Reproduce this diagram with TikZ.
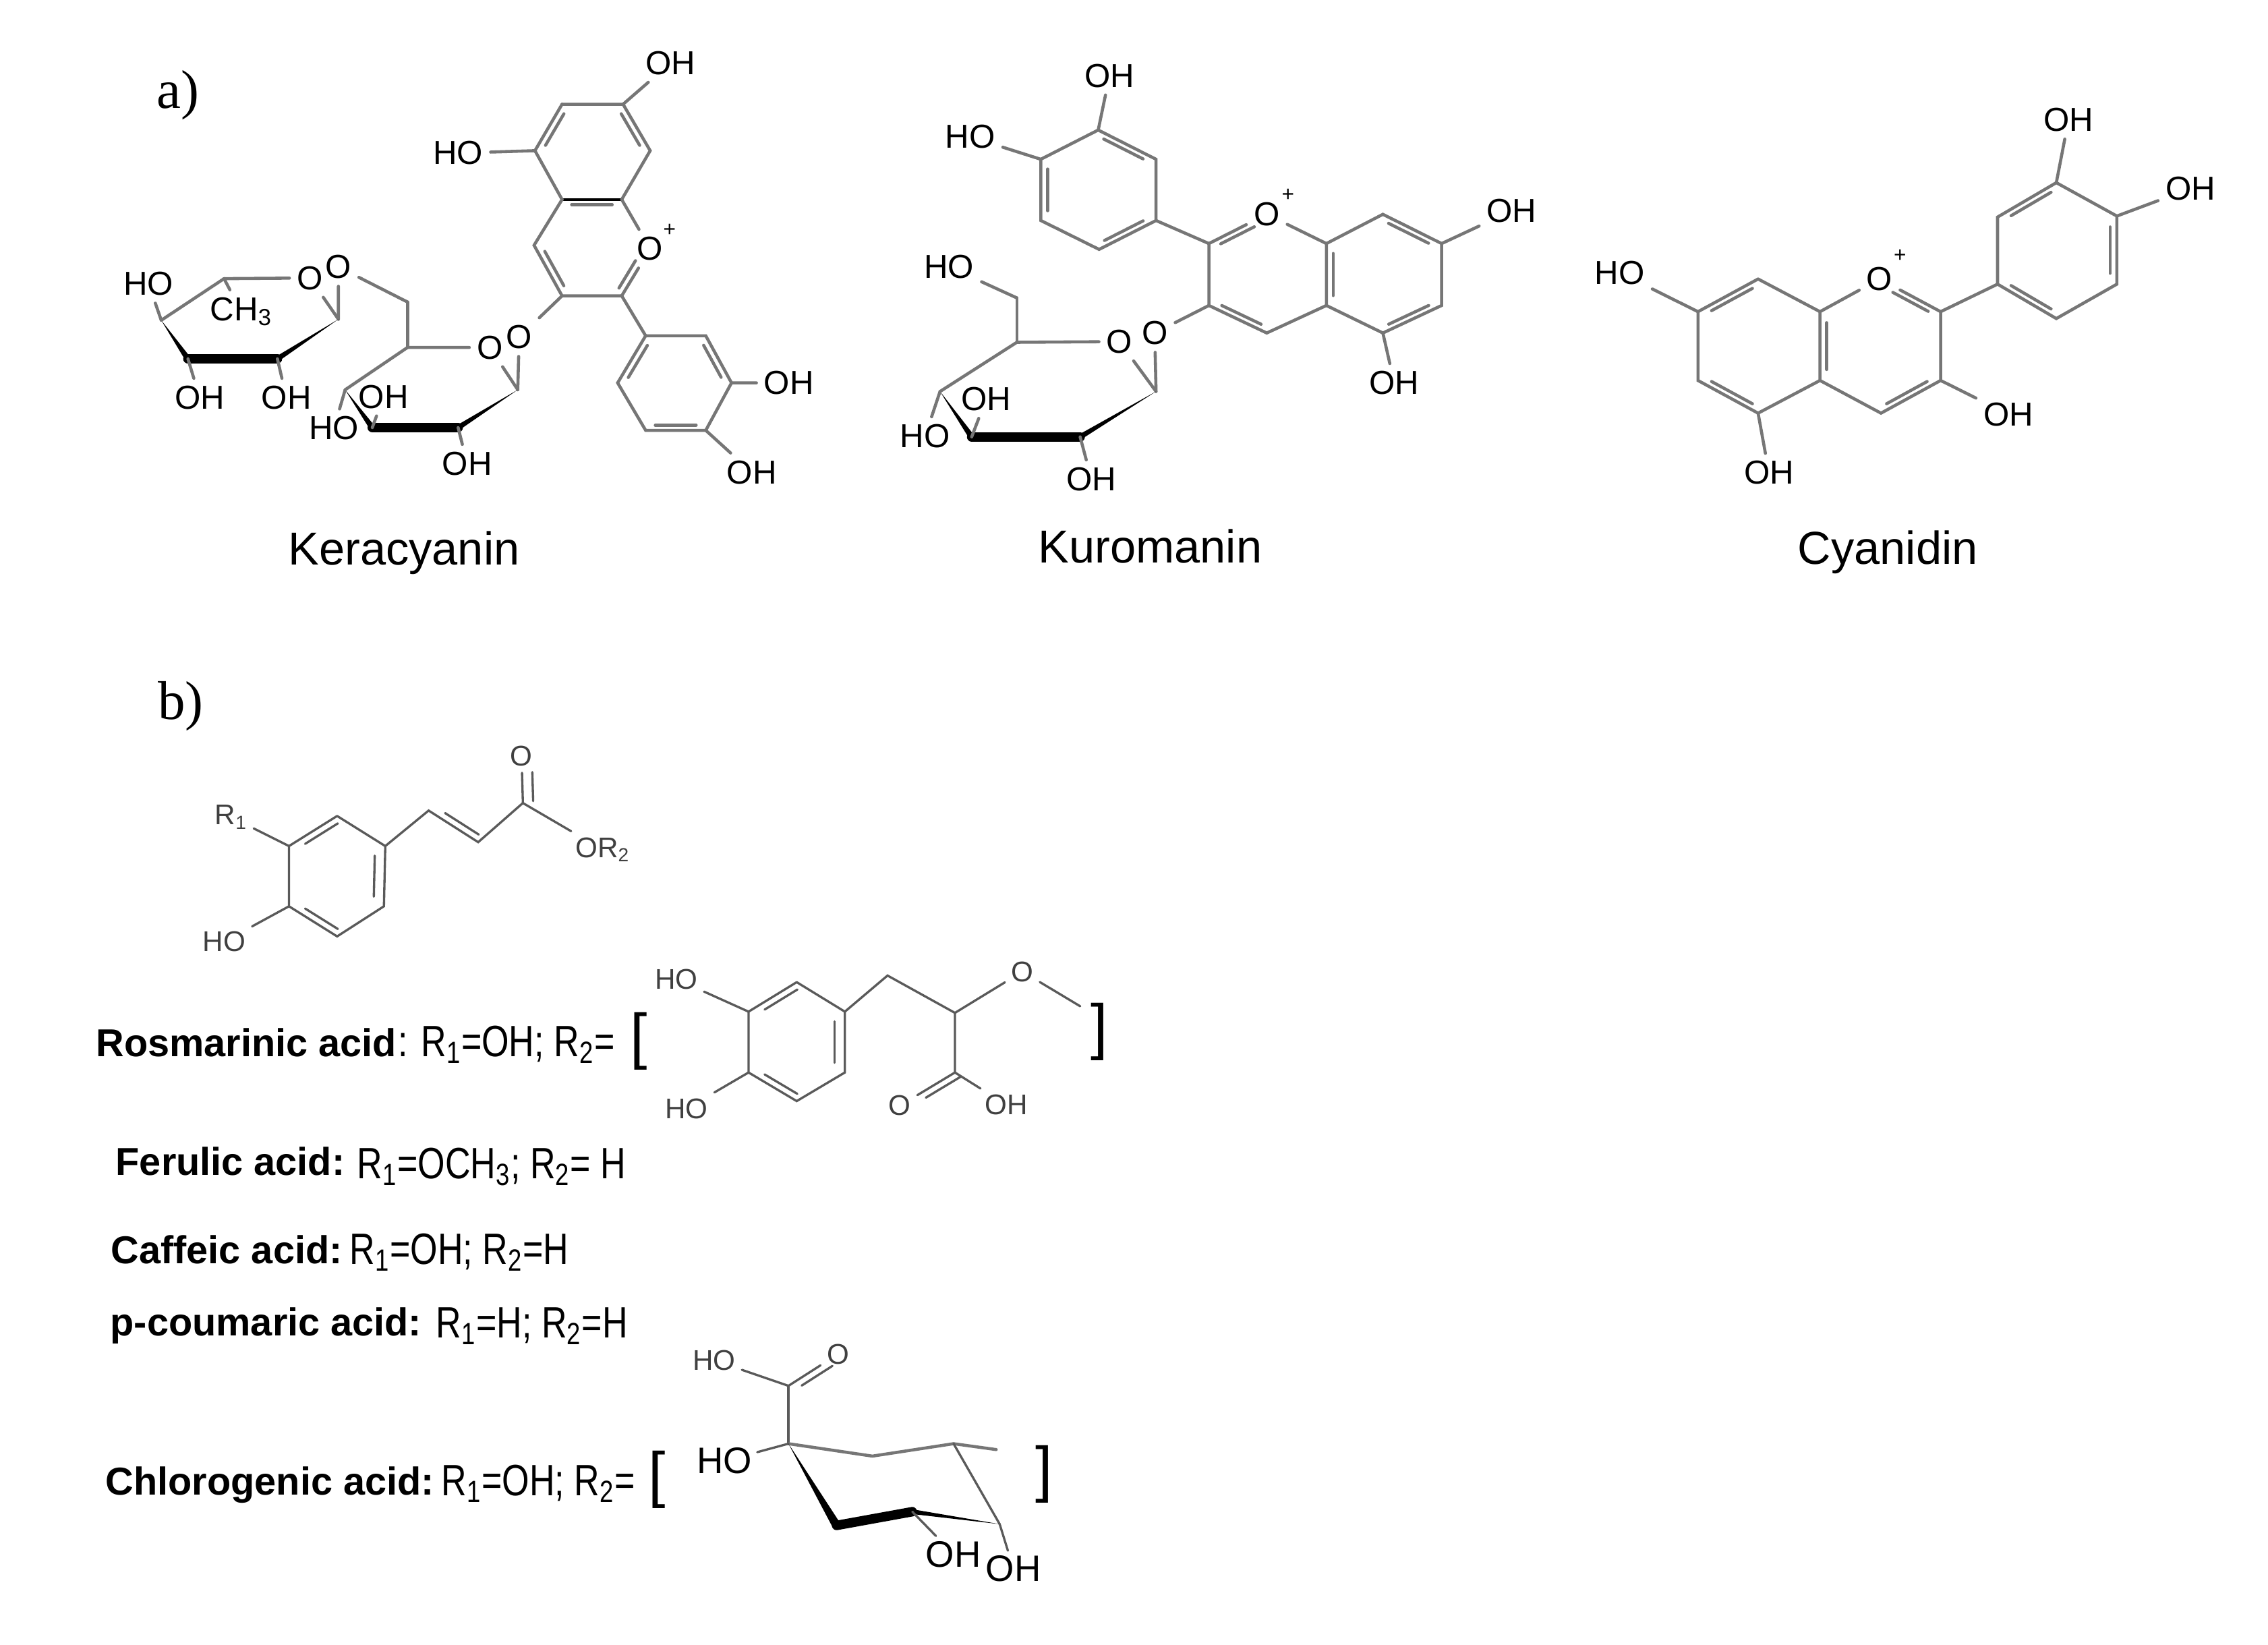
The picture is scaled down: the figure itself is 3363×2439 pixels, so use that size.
\documentclass[tikz,border=0pt]{standalone}
\usepackage{fontspec}
\usepackage{xcolor}
\usepackage{tikz}
\usetikzlibrary{calc}
\setmainfont{Liberation Sans}
\newfontfamily\SerifFont{Liberation Serif}
\newfontfamily\CondFont[FakeStretch=0.80]{Liberation Sans}
\definecolor{ColBond}{RGB}{118,118,118}
\definecolor{ColThin}{RGB}{90,90,90}
\tikzstyle{EdgeBond}=[ColBond,line width=1.3pt,line cap=round]
\tikzstyle{EdgeThin}=[ColThin,line width=0.95pt,line cap=round]
\tikzstyle{EdgeBold}=[black,line width=4pt,line cap=round]
\tikzstyle{NodeAtom}=[inner sep=3pt,font=\fontsize{14}{15}\selectfont]
\tikzstyle{NodeLarge}=[inner sep=2pt,font=\fontsize{15.5}{16}\selectfont]
\tikzstyle{NodeSmall}=[inner sep=2.5pt,text=black!75,font=\fontsize{12}{13}\selectfont]
\tikzstyle{NodePlus}=[inner sep=0pt,font=\fontsize{9}{10}\selectfont]
\tikzstyle{NodeTitle}=[inner sep=0pt,font=\fontsize{19.5}{21}\selectfont]
\tikzstyle{NodeLetter}=[inner sep=0pt,font=\SerifFont\fontsize{23}{24}\selectfont]
\tikzstyle{NodeAcid}=[inner sep=0pt,anchor=base west,font=\bfseries\fontsize{16.4}{17}\selectfont]
\tikzstyle{NodeFormula}=[inner sep=0pt,anchor=base west,font=\CondFont\fontsize{18.5}{19}\selectfont]
\tikzstyle{NodeBracket}=[inner sep=0pt,anchor=base,font=\fontsize{26}{27}\selectfont]
\newcommand{\InnerPart}[5]{\draw[#1]($(#4)!#2!(#5)!0.15cm!-90:(#5)$)--($(#4)!#3!(#5)!0.15cm!-90:(#5)$);}
\newcommand{\InnerBond}[3][EdgeBond]{\InnerPart{#1}{0.16}{0.84}{#2}{#3}}
\newcommand{\WedgeBond}[2]{\fill[black]($(#1)$)--($(#2)!0.07cm!90:(#1)$)--($(#2)!0.07cm!-90:(#1)$)--cycle;}
\begin{document}
\begin{tikzpicture}[x=0.01cm,y=-0.01cm]
    \useasboundingbox(0,0)rectangle(3363,2439);
    \node[NodeLetter](lettera)at(264,141){a)};
    \node[NodeLetter](letterb)at(268,1047){b)};
    % Keracyanin
    \begin{scope}[shift={(150,50)},xscale=0.67,yscale=0.51]
        \coordinate(kA1)at(1020,205);\coordinate(kA2)at(1155,205);\coordinate(kA3)at(1215,340);
        \coordinate(kA4)at(1152,482);\coordinate(kA5)at(1020,482);\coordinate(kA6)at(960,340);
        \coordinate(kB1)at(958,615);\coordinate(kB2)at(1020,762);\coordinate(kB3)at(1152,762);
        \coordinate(kC1)at(1205,878);\coordinate(kC2)at(1338,878);\coordinate(kC3)at(1395,1015);
        \coordinate(kC4)at(1338,1153);\coordinate(kC5)at(1205,1153);\coordinate(kC6)at(1143,1015);
        \coordinate(kD1)at(922,1035);\coordinate(kD2)at(790,1145);\coordinate(kD3)at(600,1145);
        \coordinate(kD4)at(540,1035);\coordinate(kD5)at(678,912);\coordinate(kD6)at(678,780);
        \coordinate(kE1)at(525,830);\coordinate(kE2)at(390,945);\coordinate(kE3)at(192,945);
        \coordinate(kE4)at(133,833);\coordinate(kE5)at(272,712);
        \node[NodeAtom](kOa)at(1215,625){O};
        \node[NodePlus](kPlus)at(1258,572){+};
        \node[NodeAtom](kOb)at(925,882){O};
        \node[NodeAtom](kOc)at(860,912){O};
        \node[NodeAtom](kOd)at(525,678){O};
        \node[NodeAtom](kOe)at(462,710){O};
        \node[NodeAtom](kOHa)at(1260,85){OH};
        \node[NodeAtom](kOHb)at(790,347){HO};
        \node[NodeAtom](kOHc)at(1522,1015){OH};
        \node[NodeAtom](kOHd)at(1440,1275){OH};
        \node[NodeAtom](kOHe)at(810,1250){OH};
        \node[NodeAtom](kOHf)at(625,1055){OH};
        \node[NodeAtom](kOHg)at(515,1147){HO};
        \node[NodeAtom](kOHh)at(105,727){HO};
        \node[NodeAtom](kOHi)at(218,1058){OH};
        \node[NodeAtom](kOHj)at(410,1058){OH};
        \node[NodeAtom](kMe)at(310,808){CH\textsubscript{3}};
        \node[NodeTitle](kName)at(670,1510){Keracyanin};
        \draw[EdgeBond](kA1)--(kA2)--(kA3)--(kA4);
        \draw[EdgeBond,black](kA4)--(kA5);
        \draw[EdgeBond](kA5)--(kA6)--(kA1);
        \draw[EdgeBond](kA5)--(kB1)--(kB2)--(kB3);
        \draw[EdgeBond](kA4)--(kOa);
        \draw[EdgeBond](kB3)--(kOa);
        \draw[EdgeBond](kA2)--(kOHa);
        \draw[EdgeBond](kA6)--(kOHb);
        \InnerBond{kA6}{kA1}
        \InnerBond{kA2}{kA3}
        \InnerBond{kA5}{kA4}
        \InnerBond{kB2}{kB1}
        \InnerPart{EdgeBond}{0.3}{0.88}{kOa}{kB3}
        \draw[EdgeBond](kB3)--(kC1);
        \draw[EdgeBond](kC1)--(kC2)--(kC3)--(kC4)--(kC5)--(kC6)--(kC1);
        \InnerBond{kC6}{kC1}
        \InnerBond{kC2}{kC3}
        \InnerBond{kC4}{kC5}
        \draw[EdgeBond](kC3)--(kOHc);
        \draw[EdgeBond](kC4)--(kOHd);
        \draw[EdgeBond](kB2)--(kOb);
        \draw[EdgeBond](kOb)--(kD1);
        \draw[EdgeBond](kD1)--(kOc);
        \draw[EdgeBond](kOc)--(kD5);
        \draw[EdgeBond](kD5)--(kD4);
        \draw[EdgeBond](kD5)--(kD6);
        \draw[EdgeBond](kD6)--(kOd);
        \draw[EdgeBond](kOd)--(kE1);
        \draw[EdgeBond](kE1)--(kOe);
        \draw[EdgeBond](kOe)--(kE5);
        \draw[EdgeBond](kE5)--(kE4);
        \draw[EdgeBond](kE5)--(kMe);
        \WedgeBond{kD1}{kD2}
        \WedgeBond{kD4}{kD3}
        \draw[EdgeBold](kD3)--(kD2);
        \WedgeBond{kE1}{kE2}
        \WedgeBond{kE4}{kE3}
        \draw[EdgeBold](kE3)--(kE2);
        \draw[EdgeBond](kD2)--(kOHe);
        \draw[EdgeBond](kD3)--(kOHf);
        \draw[EdgeBond](kD4)--(kOHg);
        \draw[EdgeBond](kE4)--(kOHh);
        \draw[EdgeBond](kE3)--(kOHi);
        \draw[EdgeBond](kE2)--(kOHj);
    \end{scope}
    % Kuromanin
    \begin{scope}[shift={(1280,50)},xscale=0.67,yscale=0.51]
        \coordinate(mP1)at(520,280);\coordinate(mP2)at(648,365);\coordinate(mP3)at(648,543);
        \coordinate(mP4)at(522,627);\coordinate(mP5)at(393,543);\coordinate(mP6)at(393,365);
        \coordinate(mQ1)at(765,610);\coordinate(mQ3)at(1025,610);\coordinate(mQ4)at(1025,790);
        \coordinate(mQ5)at(893,870);\coordinate(mQ6)at(765,790);
        \coordinate(mR1)at(1150,525);\coordinate(mR2)at(1280,610);\coordinate(mR3)at(1280,790);
        \coordinate(mR4)at(1150,870);
        \coordinate(mS1)at(648,1040);\coordinate(mS2)at(480,1172);\coordinate(mS3)at(240,1172);
        \coordinate(mS4)at(170,1040);\coordinate(mS5)at(340,897);\coordinate(mS6)at(340,768);
        \node[NodeAtom](mOa)at(893,525){O};
        \node[NodePlus](mPlus)at(940,470){+};
        \node[NodeAtom](mOb)at(645,870){O};
        \node[NodeAtom](mOc)at(567,895){O};
        \node[NodeAtom](mOHa)at(545,122){OH};
        \node[NodeAtom](mOHb)at(237,300){HO};
        \node[NodeAtom](mOHc)at(1435,515){OH};
        \node[NodeAtom](mOHd)at(1175,1015){OH};
        \node[NodeAtom](mOHe)at(190,678){HO};
        \node[NodeAtom](mOHf)at(137,1170){HO};
        \node[NodeAtom](mOHg)at(272,1062){OH};
        \node[NodeAtom](mOHh)at(505,1295){OH};
        \node[NodeTitle](mName)at(635,1490){Kuromanin};
        \draw[EdgeBond](mP1)--(mP2)--(mP3)--(mP4)--(mP5)--(mP6)--(mP1);
        \InnerBond{mP1}{mP2}
        \InnerBond{mP3}{mP4}
        \InnerBond{mP5}{mP6}
        \draw[EdgeBond](mP1)--(mOHa);
        \draw[EdgeBond](mP6)--(mOHb);
        \draw[EdgeBond](mP3)--(mQ1);
        \draw[EdgeBond](mQ1)--(mOa);
        \draw[EdgeBond](mOa)--(mQ3);
        \draw[EdgeBond](mQ3)--(mQ4)--(mQ5)--(mQ6)--(mQ1);
        \InnerPart{EdgeBond}{0.14}{0.72}{mQ1}{mOa}
        \InnerBond{mQ4}{mQ3}
        \InnerBond{mQ5}{mQ6}
        \draw[EdgeBond](mQ3)--(mR1)--(mR2)--(mR3)--(mR4)--(mQ4);
        \InnerBond{mR1}{mR2}
        \InnerBond{mR3}{mR4}
        \draw[EdgeBond](mR2)--(mOHc);
        \draw[EdgeBond](mR4)--(mOHd);
        \draw[EdgeBond](mQ6)--(mOb);
        \draw[EdgeBond](mOb)--(mS1);
        \draw[EdgeBond](mS1)--(mOc);
        \draw[EdgeBond](mOc)--(mS5);
        \draw[EdgeBond](mS5)--(mS4);
        \draw[EdgeBond](mS5)--(mS6);
        \draw[EdgeBond](mS6)--(mOHe);
        \WedgeBond{mS1}{mS2}
        \WedgeBond{mS4}{mS3}
        \draw[EdgeBold](mS3)--(mS2);
        \draw[EdgeBond](mS4)--(mOHf);
        \draw[EdgeBond](mS3)--(mOHg);
        \draw[EdgeBond](mS2)--(mOHh);
    \end{scope}
    % Cyanidin
    \begin{scope}[shift={(2300,100)},xscale=0.67,yscale=0.51]
        \coordinate(cT1)at(458,615);\coordinate(cT2)at(595,710);\coordinate(cT3)at(595,910);
        \coordinate(cT4)at(458,1005);\coordinate(cT5)at(325,910);\coordinate(cT6)at(325,710);
        \coordinate(cU1)at(862,710);\coordinate(cU2)at(862,910);\coordinate(cU3)at(730,1005);
        \coordinate(cV1)at(988,630);\coordinate(cV2)at(988,435);\coordinate(cV3)at(1118,335);
        \coordinate(cV4)at(1252,432);\coordinate(cV5)at(1252,630);\coordinate(cV6)at(1118,730);
        \node[NodeAtom](cOa)at(727,615){O};
        \node[NodePlus](cPlus)at(772,547){+};
        \node[NodeAtom](cOHa)at(152,597){HO};
        \node[NodeAtom](cOHb)at(482,1178){OH};
        \node[NodeAtom](cOHc)at(1012,1008){OH};
        \node[NodeAtom](cOHd)at(1145,152){OH};
        \node[NodeAtom](cOHe)at(1415,352){OH};
        \node[NodeTitle](cName)at(745,1410){Cyanidin};
        \draw[EdgeBond](cT1)--(cT2)--(cT3)--(cT4)--(cT5)--(cT6)--(cT1);
        \InnerBond{cT6}{cT1}
        \InnerBond{cT4}{cT5}
        \InnerBond{cT3}{cT2}
        \draw[EdgeBond](cT6)--(cOHa);
        \draw[EdgeBond](cT4)--(cOHb);
        \draw[EdgeBond](cT2)--(cOa);
        \draw[EdgeBond](cOa)--(cU1);
        \draw[EdgeBond](cU1)--(cU2)--(cU3)--(cT3);
        \InnerPart{EdgeBond}{0.28}{0.86}{cOa}{cU1}
        \InnerBond{cU2}{cU3}
        \draw[EdgeBond](cU2)--(cOHc);
        \draw[EdgeBond](cU1)--(cV1);
        \draw[EdgeBond](cV1)--(cV2)--(cV3)--(cV4)--(cV5)--(cV6)--(cV1);
        \InnerBond{cV2}{cV3}
        \InnerBond{cV4}{cV5}
        \InnerBond{cV6}{cV1}
        \draw[EdgeBond](cV3)--(cOHd);
        \draw[EdgeBond](cV4)--(cOHe);
    \end{scope}
    % general formula and the rosmarinic side group
    \begin{scope}[shift={(100,1050)},xscale=1.02,yscale=0.4464]
        \coordinate(wA1)at(392,358);\coordinate(wA2)at(462,458);\coordinate(wA3)at(460,658);
        \coordinate(wA4)at(392,758);\coordinate(wA5)at(322,658);\coordinate(wA6)at(322,458);
        \coordinate(wB1)at(525,340);\coordinate(wB2)at(597,445);\coordinate(wB3)at(662,315);
        \node[NodeSmall](wRa)at(238,362){R\textsubscript{1}};
        \node[NodeSmall](wHO)at(228,775){HO};
        \node[NodeSmall](wO)at(660,160){O};
        \node[NodeSmall](wRb)at(778,470){OR\textsubscript{2}};
        \draw[EdgeThin](wA1)--(wA2)--(wA3)--(wA4)--(wA5)--(wA6)--(wA1);
        \InnerBond[EdgeThin]{wA6}{wA1}
        \InnerBond[EdgeThin]{wA2}{wA3}
        \InnerBond[EdgeThin]{wA4}{wA5}
        \draw[EdgeThin](wA6)--(wRa);
        \draw[EdgeThin](wA5)--(wHO);
        \draw[EdgeThin](wA2)--(wB1)--(wB2)--(wB3);
        \InnerBond[EdgeThin]{wB2}{wB1}
        \draw[EdgeThin](wB3)--(wO);
        \InnerPart{EdgeThin}{0.04}{0.66}{wB3}{wO}
        \draw[EdgeThin](wB3)--(wRb);
        \coordinate(yA1)at(1060,910);\coordinate(yA2)at(1130,1008);\coordinate(yA3)at(1130,1210);
        \coordinate(yA4)at(1060,1305);\coordinate(yA5)at(990,1210);\coordinate(yA6)at(990,1008);
        \coordinate(yB1)at(1192,888);\coordinate(yB2)at(1290,1012);\coordinate(yB3)at(1290,1210);
        \coordinate(yEnd)at(1472,990);
        \node[NodeSmall](yHOa)at(885,900){HO};
        \node[NodeSmall](yHOb)at(900,1330){HO};
        \node[NodeSmall](yOa)at(1388,875){O};
        \node[NodeSmall](yOb)at(1210,1320){O};
        \node[NodeSmall](yOHc)at(1365,1318){OH};
        \draw[EdgeThin](yA1)--(yA2)--(yA3)--(yA4)--(yA5)--(yA6)--(yA1);
        \InnerBond[EdgeThin]{yA6}{yA1}
        \InnerBond[EdgeThin]{yA2}{yA3}
        \InnerBond[EdgeThin]{yA4}{yA5}
        \draw[EdgeThin](yA6)--(yHOa);
        \draw[EdgeThin](yA5)--(yHOb);
        \draw[EdgeThin](yA2)--(yB1)--(yB2)--(yB3);
        \draw[EdgeThin](yB2)--(yOa);
        \draw[EdgeThin](yOa)--(yEnd);
        \draw[EdgeThin](yB3)--(yOb);
        \InnerPart{EdgeThin}{0.32}{0.95}{yOb}{yB3}
        \draw[EdgeThin](yB3)--(yOHc);
    \end{scope}
    % acid rows
    \node[NodeAcid](rosName)at(142,1566){Rosmarinic acid};
    \node[NodeFormula](rosForm)at(590,1566){: R\textsubscript{1}=OH; R\textsubscript{2}=};
    \node[NodeBracket](rosOpen)at(947,1567){[};
    \node[NodeBracket](rosClose)at(1630,1553){]};
    \node[NodeAcid](ferName)at(171,1742){Ferulic acid:};
    \node[NodeFormula](ferForm)at(529,1747){R\textsubscript{1}=OCH\textsubscript{3}; R\textsubscript{2}= H};
    \node[NodeAcid](cafName)at(164,1873){Caffeic acid:};
    \node[NodeFormula](cafForm)at(518,1874){R\textsubscript{1}=OH; R\textsubscript{2}=H};
    \node[NodeAcid](couName)at(163,1980){p-coumaric acid:};
    \node[NodeFormula](couForm)at(646,1983){R\textsubscript{1}=H; R\textsubscript{2}=H};
    \node[NodeAcid](chlName)at(156,2216){Chlorogenic acid:};
    \node[NodeFormula](chlForm)at(654,2217){R\textsubscript{1}=OH; R\textsubscript{2}=};
    \node[NodeBracket](chlOpen)at(974,2217){[};
    \node[NodeBracket](chlClose)at(1548,2209){]};
    % chlorogenic side group
    \begin{scope}[shift={(100,1650)},xscale=1.02,yscale=0.4847]
        \coordinate(qC)at(1048,835);\coordinate(qA1)at(1048,1012);\coordinate(qA2)at(1170,1050);
        \coordinate(qA3)at(1288,1012);\coordinate(qEnd)at(1350,1030);\coordinate(qA4)at(1118,1262);
        \coordinate(qA5)at(1228,1220);\coordinate(qA6)at(1355,1258);
        \node[NodeSmall](qHOa)at(940,757){HO};
        \node[NodeSmall](qOa)at(1120,738){O};
        \node[NodeLarge](qHOb)at(955,1065){HO};
        \node[NodeLarge](qOHc)at(1288,1350){OH};
        \node[NodeLarge](qOHd)at(1375,1395){OH};
        \draw[EdgeThin](qC)--(qHOa);
        \draw[EdgeThin](qC)--(qOa);
        \InnerPart{EdgeThin}{0.1}{0.72}{qC}{qOa}
        \draw[EdgeThin](qC)--(qA1);
        \draw[EdgeBond](qA1)--(qA2)--(qA3)--(qEnd);
        \draw[EdgeThin](qA1)--(qHOb);
        \draw[EdgeThin](qA3)--(qA6);
        \WedgeBond{qA1}{qA4}
        \draw[EdgeBold](qA4)--(qA5);
        \WedgeBond{qA6}{qA5}
        \draw[EdgeThin](qA5)--(qOHc);
        \draw[EdgeThin](qA6)--(qOHd);
    \end{scope}
\end{tikzpicture}
\end{document}
